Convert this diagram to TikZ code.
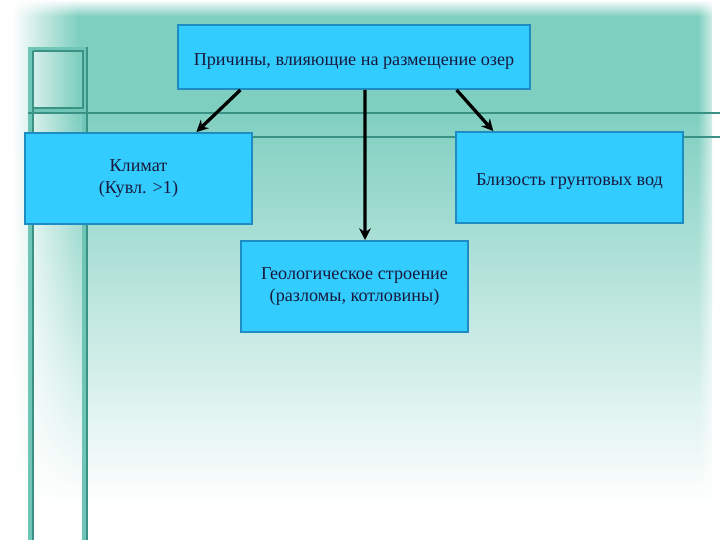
\documentclass[tikz,border=0pt]{standalone}
\usepackage{fontspec}
\setmainfont{Liberation Serif}
\usetikzlibrary{arrows.meta,calc,fadings}
\definecolor{bgteal}{RGB}{127,207,192}
\definecolor{linedark}{RGB}{58,146,132}
\definecolor{lineband}{RGB}{112,198,182}
\definecolor{boxfill}{RGB}{51,204,255}
\definecolor{boxedge}{RGB}{30,140,195}
\definecolor{txt}{RGB}{25,25,60}
\tikzfading[name=fadeLR, left color=transparent!0, right color=transparent!100]
\tikzfading[name=fadeRL, left color=transparent!100, right color=transparent!0]
\tikzfading[name=fadeTB, top color=transparent!0, bottom color=transparent!100]
\begin{document}
\begin{tikzpicture}[x=0.03cm,y=-0.03cm,
  box/.style={draw=boxedge, line width=1.6pt, fill=boxfill, text=txt, align=center,
    inner sep=0pt, font=\fontsize{15.5}{19.5}\selectfont,
    execute at begin node={\rule{0pt}{17pt}}},
  smallbox/.style={box, minimum width=6.81cm, minimum height=2.73cm},
  arr/.style={line width=2.8pt, black, -{Stealth[length=10pt,width=10pt]}},
  decoband/.style={draw=lineband, line width=3.4pt},
  decoline/.style={draw=linedark, line width=0.9pt}]
\useasboundingbox (0,0) rectangle (720,540);
% background
\fill[white] (0,0) rectangle (720,540);
\fill[bgteal] (0,0) rectangle (712,110);
\shade[top color=bgteal, bottom color=white] (0,110) rectangle (712,505);
\fill[white, path fading=fadeTB] (0,0) rectangle (720,16);
\fill[white] (0,0) rectangle (12,540);
\fill[white, path fading=fadeLR] (12,0) rectangle (78,540);
\fill[white, path fading=fadeRL] (698,0) rectangle (720,540);
% decorative lines
\draw[decoband] (30,47) -- (30,540);
\draw[decoband] (84,47) -- (84,540);
\draw[decoband] (28,49) -- (87,49);
\draw[decoband] (28,111) -- (87,111);
\draw[decoline] (33,51) -- (33,540);
\draw[decoline] (87,47) -- (87,540);
\draw[decoline] (33,51) -- (83,51) -- (83,108) -- (33,108);
\draw[decoline] (28,113) -- (720,113);
\draw[decoline] (87,137) -- (720,137);
% boxes
\node[box, minimum width=10.56cm, minimum height=1.92cm] (top) at (354,57)
  {Причины, влияющие на размещение озер};
\node[smallbox] (klim) at (138.5,178.5) {Климат\\(Кувл. >1)};
\node[smallbox] (grnd) at (569.5,177.5) {Близость грунтовых вод};
\node[smallbox] (geo) at (354.5,286.5) {Геологическое строение\\(разломы, котловины)};
% arrows
\draw[arr] ($(top.south west)!0.179!(top.south east)$) -- ($(klim.north west)!0.753!(klim.north east)$);
\draw[arr] ($(top.south west)!0.531!(top.south east)$) -- ($(geo.north west)!0.546!(geo.north east)$);
\draw[arr] ($(top.south west)!0.79!(top.south east)$) -- ($(grnd.north west)!0.167!(grnd.north east)$);
\end{tikzpicture}
\end{document}
